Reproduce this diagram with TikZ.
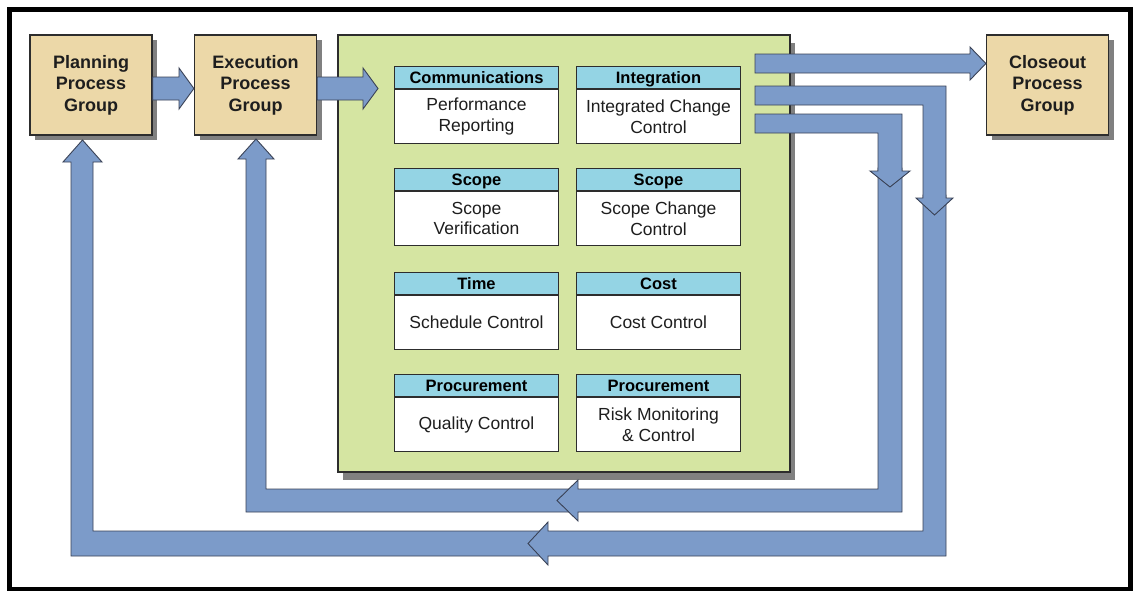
\documentclass[tikz,border=0pt]{standalone}
\usepackage{fontspec}
\setmainfont{Liberation Sans}
\usetikzlibrary{shadows}
\definecolor{tanc}{RGB}{236,216,168}
\definecolor{panelc}{RGB}{213,229,162}
\definecolor{hdrc}{RGB}{148,212,228}
\definecolor{arrowc}{RGB}{124,155,201}
\definecolor{arrowedge}{RGB}{58,66,86}
\definecolor{shadowc}{RGB}{128,128,128}
\definecolor{boxedge}{RGB}{45,45,45}
\definecolor{textc}{RGB}{30,30,30}
\begin{document}
\begin{tikzpicture}[x=1pt,y=-1pt,
  groupbox/.style={draw=boxedge, line width=1.2pt, fill=tanc,
    minimum width=122pt, minimum height=100pt, inner sep=0pt, align=center,
    text=textc, font=\fontsize{18}{21.5}\selectfont\bfseries,
    drop shadow={shadow xshift=5pt, shadow yshift=-5pt, fill=shadowc, opacity=1}},
  panelbox/.style={draw=boxedge, line width=1.2pt, fill=panelc,
    minimum width=452pt, minimum height=437pt, inner sep=0pt,
    drop shadow={shadow xshift=5pt, shadow yshift=-8pt, fill=shadowc, opacity=1}},
  hdr/.style={draw=boxedge, line width=1pt, fill=hdrc, anchor=north west,
    minimum width=164pt, minimum height=22pt, inner sep=0pt,
    text height=11.8pt, text depth=0pt, text=black,
    font=\fontsize{16.5}{19}\selectfont\bfseries},
  bod/.style={draw=boxedge, line width=1pt, fill=white, anchor=north,
    minimum width=164pt, minimum height=54pt, inner sep=0pt, align=center,
    text=textc, font=\fontsize{17.5}{20.5}\selectfont},
  blockarrow/.style={fill=arrowc, draw=arrowedge, line width=0.9pt, line join=miter}]

\useasboundingbox (0,0) rectangle (1135,590);
\fill[white] (0,0) rectangle (1135,590);

% process groups and the monitoring panel
\node[groupbox] (plan)  at (91,85)     {Planning\\Process\\Group};
\node[groupbox] (exec)  at (255.5,85)  {Execution\\Process\\Group};
\node[groupbox] (close) at (1047.5,85) {Closeout\\Process\\Group};
\node[panelbox] (panel) at (564,253.5) {};

% knowledge-area processes
\node[hdr] (h11) at (394,66)  {\hfill Communications\hfill\null};
\node[bod] (b11) at (h11.south) {Performance\\Reporting};
\node[hdr] (h12) at (576,66)  {\hfill Integration\hfill\null};
\node[bod] (b12) at (h12.south) {Integrated Change\\Control};
\node[hdr] (h21) at (394,168) {\hfill Scope\hfill\null};
\node[bod] (b21) at (h21.south) {Scope\\Verification};
\node[hdr] (h22) at (576,168) {\hfill Scope\hfill\null};
\node[bod] (b22) at (h22.south) {Scope Change\\Control};
\node[hdr] (h31) at (394,272) {\hfill Time\hfill\null};
\node[bod] (b31) at (h31.south) {Schedule Control};
\node[hdr] (h32) at (576,272) {\hfill Cost\hfill\null};
\node[bod] (b32) at (h32.south) {Cost Control};
\node[hdr] (h41) at (394,374) {\hfill Procurement\hfill\null};
\node[bod] (b41) at (h41.south) {Quality Control};
\node[hdr] (h42) at (576,374) {\hfill Procurement\hfill\null};
\node[bod] (b42) at (h42.south) {Risk Monitoring\\\& Control};

% forward arrows
\draw[blockarrow] (plan.east |- 0,77) -- (179,77) -- (179,68) -- (exec.west |- 0,88.5)
  -- (179,109) -- (179,100) -- (plan.east |- 0,100) -- cycle;
\draw[blockarrow] (exec.east |- 0,77) -- (363,77) -- (363,68) -- (378,88.5)
  -- (363,109) -- (363,100) -- (exec.east |- 0,100) -- cycle;
\draw[blockarrow] (755,54) -- (970,54) -- (970,47) -- (close.west |- 0,63.5)
  -- (970,80) -- (970,73) -- (755,73) -- cycle;

% feedback loop back to planning
\draw[blockarrow] (545,531) -- (93,531) -- (93,162) -- (102,162) -- (82.5,140)
  -- (63,162) -- (71,162) -- (71,556) -- (545,556) -- cycle;
\draw[blockarrow] (923,195) -- (946,195) -- (946,556) -- (548,556) -- (548,565)
  -- (528,543.5) -- (548,522) -- (548,531) -- (923,531) -- cycle;
\draw[blockarrow] (755,86) -- (946,86) -- (946,198) -- (953,198) -- (934.5,215)
  -- (916,198) -- (923,198) -- (923,105) -- (755,105) -- cycle;

% feedback loop back to execution
\draw[blockarrow] (575,489) -- (266,489) -- (266,159) -- (274,159) -- (256,139)
  -- (238,159) -- (246,159) -- (246,512) -- (575,512) -- cycle;
\draw[blockarrow] (878,168) -- (902,168) -- (902,512) -- (578,512) -- (578,521)
  -- (557,500.5) -- (578,480) -- (578,489) -- (878,489) -- cycle;
\draw[blockarrow] (755,114) -- (902,114) -- (902,171) -- (910,171) -- (890,187)
  -- (870,171) -- (878,171) -- (878,133) -- (755,133) -- cycle;

% outer frame
\draw[line width=5pt] (9.5,9.5) rectangle (1130.5,589.5);
\end{tikzpicture}
\end{document}
